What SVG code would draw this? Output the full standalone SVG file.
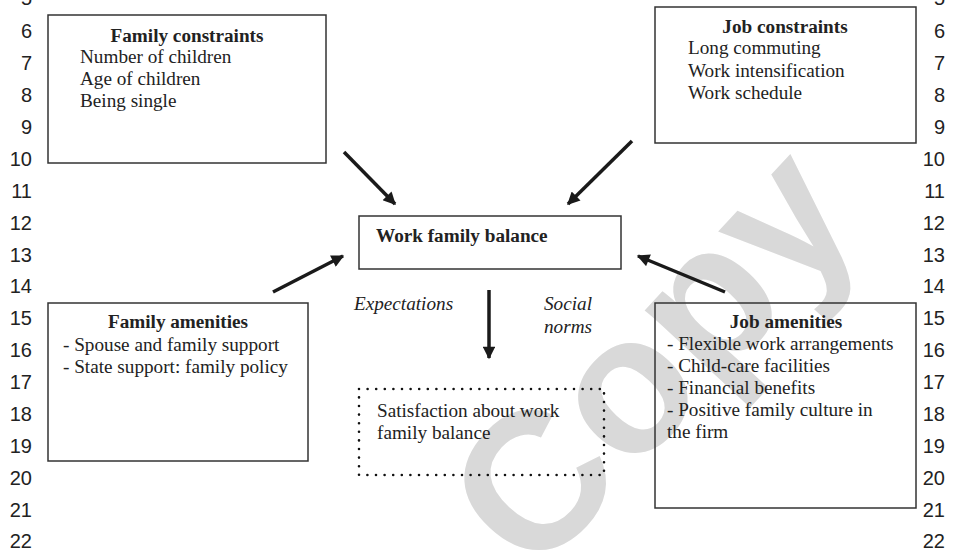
<svg xmlns="http://www.w3.org/2000/svg" width="955" height="551" viewBox="0 0 955 551">
<defs>
<marker id="ah" viewBox="0 0 10 10" refX="9" refY="5" markerWidth="4" markerHeight="3.6" markerUnits="strokeWidth" orient="auto">
<path d="M0,0 L10,5 L0,10 Z" fill="#1a1a1a"/>
</marker>
<style>
.num{font-family:"Liberation Sans",Arial,sans-serif;font-size:20px;fill:#222;text-anchor:end}
.t{font-family:"Liberation Serif","Times New Roman",serif;font-size:19.2px;fill:#222}
.b{font-weight:bold;text-anchor:middle}
.i{font-style:italic}
.box{fill:none;stroke:#333;stroke-width:1.5}
.dot{fill:none;stroke:#111;stroke-width:2.6;stroke-linecap:round;stroke-dasharray:0 8.6}
.arr{stroke:#1a1a1a;stroke-width:3.5;fill:none;marker-end:url(#ah)}
.wm{font-family:"Liberation Sans",Arial,sans-serif;font-weight:bold;font-size:195px;fill:#d9d9d9}
</style>
</defs>
<rect width="955" height="551" fill="#fff"/>
<text class="wm" transform="translate(534,580) rotate(-47)">Copy</text>
<g id="line-numbers-left">
<text class="num" x="32" y="5">5</text>
<text class="num" x="32" y="38">6</text>
<text class="num" x="32" y="70">7</text>
<text class="num" x="32" y="102">8</text>
<text class="num" x="32" y="134">9</text>
<text class="num" x="32" y="166">10</text>
<text class="num" x="32" y="198">11</text>
<text class="num" x="32" y="230">12</text>
<text class="num" x="32" y="262">13</text>
<text class="num" x="32" y="293">14</text>
<text class="num" x="32" y="325">15</text>
<text class="num" x="32" y="357">16</text>
<text class="num" x="32" y="389">17</text>
<text class="num" x="32" y="421">18</text>
<text class="num" x="32" y="453">19</text>
<text class="num" x="32" y="485">20</text>
<text class="num" x="32" y="517">21</text>
<text class="num" x="32" y="548">22</text>
</g>
<g id="line-numbers-right">
<text class="num" x="945" y="5">5</text>
<text class="num" x="945" y="38">6</text>
<text class="num" x="945" y="70">7</text>
<text class="num" x="945" y="102">8</text>
<text class="num" x="945" y="134">9</text>
<text class="num" x="945" y="166">10</text>
<text class="num" x="945" y="198">11</text>
<text class="num" x="945" y="230">12</text>
<text class="num" x="945" y="262">13</text>
<text class="num" x="945" y="293">14</text>
<text class="num" x="945" y="325">15</text>
<text class="num" x="945" y="357">16</text>
<text class="num" x="945" y="389">17</text>
<text class="num" x="945" y="421">18</text>
<text class="num" x="945" y="453">19</text>
<text class="num" x="945" y="485">20</text>
<text class="num" x="945" y="517">21</text>
<text class="num" x="945" y="548">22</text>
</g>
<g id="family-constraints">
<rect class="box" x="48" y="15" width="278" height="148"/>
<text class="t b" x="187" y="42">Family constraints</text>
<text class="t" x="80" y="63">Number of children</text>
<text class="t" x="80" y="85">Age of children</text>
<text class="t" x="80" y="107">Being single</text>
</g>
<g id="job-constraints">
<rect class="box" x="655" y="7" width="261" height="136"/>
<text class="t b" x="785" y="33">Job constraints</text>
<text class="t" x="688" y="54">Long commuting</text>
<text class="t" x="688" y="77">Work intensification</text>
<text class="t" x="688" y="99">Work schedule</text>
</g>
<g id="work-family-balance">
<rect class="box" x="359" y="216" width="262" height="53"/>
<text class="t" font-weight="bold" x="376" y="242">Work family balance</text>
</g>
<g id="family-amenities">
<rect class="box" x="48" y="303" width="260" height="158"/>
<text class="t b" x="178" y="328">Family amenities</text>
<text class="t" x="63" y="351">- Spouse and family support</text>
<text class="t" x="63" y="373">- State support: family policy</text>
</g>
<g id="job-amenities">
<rect class="box" x="655" y="303" width="261" height="205"/>
<text class="t b" x="786" y="328">Job amenities</text>
<text class="t" x="667" y="350">- Flexible work arrangements</text>
<text class="t" x="667" y="372">- Child-care facilities</text>
<text class="t" x="667" y="394">- Financial benefits</text>
<text class="t" x="667" y="416">- Positive family culture in</text>
<text class="t" x="667" y="438">the firm</text>
</g>
<g id="satisfaction">
<rect class="dot" x="359" y="389" width="245" height="86"/>
<text class="t" x="377" y="417">Satisfaction about work</text>
<text class="t" x="377" y="439">family balance</text>
</g>
<g id="labels">
<text class="t i" x="354" y="310">Expectations</text>
<text class="t i" x="544" y="310">Social</text>
<text class="t i" x="544" y="333">norms</text>
</g>
<g id="connectors">
<line class="arr" x1="344" y1="152" x2="395" y2="204"/>
<line class="arr" x1="632" y1="141" x2="568" y2="204"/>
<line class="arr" x1="273" y1="292" x2="343" y2="256"/>
<line class="arr" x1="725" y1="292" x2="638" y2="256"/>
<line class="arr" x1="489" y1="290" x2="489" y2="358"/>
</g>
</svg>
